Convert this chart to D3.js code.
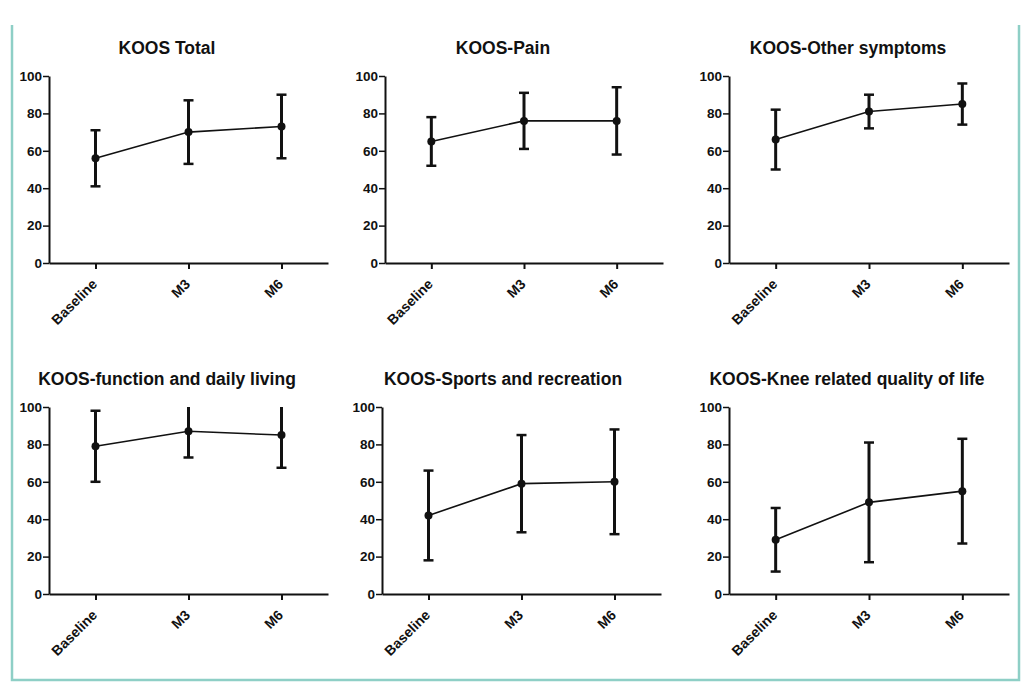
<!DOCTYPE html>
<html>
<head>
<meta charset="utf-8">
<script src="https://cdn.jsdelivr.net/npm/d3@7"></script>
<style>
  html, body { margin: 0; padding: 0; background: #fff; }
  svg { display: block; }
</style>
</head>
<body>
<svg id="chart" width="1034" height="684"></svg>
<script>
// ---- data ----
const categories = ["Baseline", "M3", "M6"];
const yTicks = [0, 20, 40, 60, 80, 100];
const titles = [
  "KOOS Total",
  "KOOS-Pain",
  "KOOS-Other symptoms",
  "KOOS-function and daily living",
  "KOOS-Sports and recreation",
  "KOOS-Knee related quality of life"
];
const means = [
  [56, 70, 73],
  [65, 76, 76],
  [66, 81, 85],
  [79, 87, 85],
  [42, 59, 60],
  [29, 49, 55]
];
const lowers = [
  [41, 53, 56],
  [52, 61, 58],
  [50, 72, 74],
  [60, 73, 67.5],
  [18, 33, 32],
  [12, 17, 27]
];
const uppers = [
  [71, 87, 90],
  [78, 91, 94],
  [82, 90, 96],
  [98, 101, 102.5],
  [66, 85, 88],
  [46, 81, 83]
];

// ---- layout ----
const FONT = "'Liberation Sans', Arial, Helvetica, sans-serif";
const svg = d3.select("#chart");
const panels = [
  {x0: 49,  x1: 328,  yTop: 76,  yBot: 263, tx: 167, ty: 54},
  {x0: 385, x1: 663,  yTop: 76,  yBot: 263, tx: 503, ty: 54},
  {x0: 729, x1: 1009, yTop: 76,  yBot: 263, tx: 848, ty: 54},
  {x0: 49,  x1: 328,  yTop: 407, yBot: 594, tx: 167, ty: 385},
  {x0: 382, x1: 661,  yTop: 407, yBot: 594, tx: 503, ty: 385},
  {x0: 729, x1: 1009, yTop: 407, yBot: 594, tx: 847, ty: 385}
];

// frame
const frame = d3.path();
frame.moveTo(12, 25); frame.lineTo(12, 680); frame.lineTo(1019, 680); frame.lineTo(1019, 25);
svg.append("path").attr("d", frame.toString())
  .attr("fill", "none").attr("stroke", "#8ecfc6").attr("stroke-width", 2.5);

panels.forEach((p, i) => {
  const g = svg.append("g");
  const x = d3.scalePoint().domain(categories).range([p.x0, p.x1]).padding(0.5);
  const y = d3.scaleLinear().domain([0, 100]).range([p.yBot, p.yTop]);

  // title
  g.append("text").attr("x", p.tx).attr("y", p.ty)
    .attr("text-anchor", "middle")
    .attr("font-family", FONT).attr("font-weight", "bold").attr("font-size", 17.5).attr("fill", "#111")
    .text(titles[i]);

  // clip
  const clipId = "clip" + i;
  g.append("clipPath").attr("id", clipId).append("rect")
    .attr("x", p.x0 - 10).attr("y", y(100)).attr("width", p.x1 - p.x0 + 20).attr("height", y(0) - y(100) + 10);

  // y axis
  const yAxis = g.append("g").attr("transform", `translate(${p.x0},0)`)
    .call(d3.axisLeft(y).tickValues(yTicks).tickSize(6).tickPadding(1).tickSizeOuter(0))
    .attr("font-family", FONT).attr("font-size", 13.5).attr("font-weight", "bold");
  yAxis.select(".domain").attr("stroke", "#111").attr("stroke-width", 2);
  yAxis.selectAll(".tick line").attr("stroke", "#111").attr("stroke-width", 1.5);
  yAxis.selectAll(".tick text").attr("fill", "#111");

  // x axis
  const xAxis = g.append("g").attr("transform", `translate(0,${p.yBot})`)
    .call(d3.axisBottom(x).tickSize(6).tickSizeOuter(0))
    .attr("font-family", FONT).attr("font-size", 14).attr("font-weight", "bold");
  xAxis.select(".domain").attr("stroke", "#111").attr("stroke-width", 2);
  xAxis.selectAll(".tick line").attr("stroke", "#111").attr("stroke-width", 2);
  xAxis.selectAll(".tick text")
    .attr("fill", "#111")
    .attr("text-anchor", "end")
    .attr("dy", null).attr("y", 0)
    .attr("transform", "translate(2,22) rotate(-45)");

  const data = categories.map((c, j) => ({c, m: means[i][j], lo: lowers[i][j], hi: uppers[i][j]}));
  const plot = g.append("g").attr("clip-path", `url(#${clipId})`);

  // connecting line
  plot.append("path").datum(data)
    .attr("d", d3.line().x(d => x(d.c)).y(d => y(d.m)))
    .attr("fill", "none").attr("stroke", "#111").attr("stroke-width", 1.6);

  // error bars
  const eb = plot.selectAll(".eb").data(data).enter().append("g");
  eb.append("line").attr("x1", d => x(d.c)).attr("x2", d => x(d.c))
    .attr("y1", d => y(d.lo)).attr("y2", d => y(d.hi))
    .attr("stroke", "#111").attr("stroke-width", 3);
  eb.append("line").attr("x1", d => x(d.c) - 5).attr("x2", d => x(d.c) + 5)
    .attr("y1", d => y(d.lo)).attr("y2", d => y(d.lo))
    .attr("stroke", "#111").attr("stroke-width", 2.5);
  eb.filter(d => d.hi <= 100).append("line").attr("x1", d => x(d.c) - 5).attr("x2", d => x(d.c) + 5)
    .attr("y1", d => y(d.hi)).attr("y2", d => y(d.hi))
    .attr("stroke", "#111").attr("stroke-width", 2.5);

  // points
  plot.selectAll(".pt").data(data).enter().append("circle")
    .attr("cx", d => x(d.c)).attr("cy", d => y(d.m)).attr("r", 4)
    .attr("fill", "#111");
});
</script>
</body>
</html>
